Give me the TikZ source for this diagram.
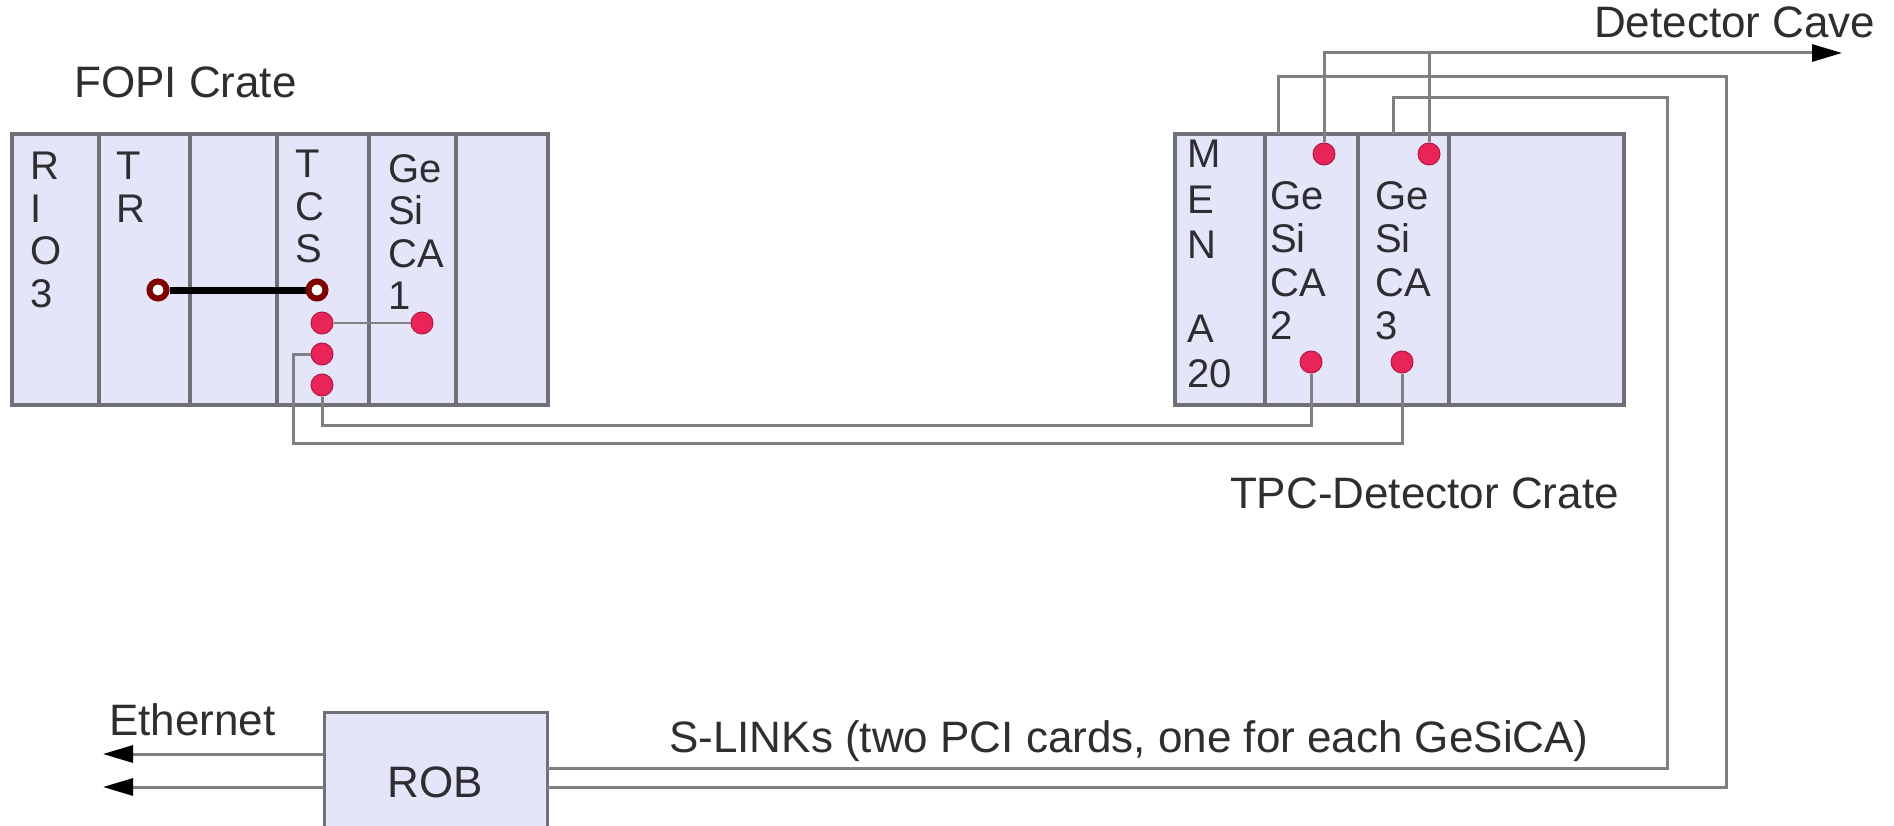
\documentclass[tikz,border=0pt]{standalone}
\usepackage{fontspec}
\setmainfont{Liberation Sans}
\usetikzlibrary{positioning, arrows.meta, calc}

\definecolor{cratefill}{RGB}{228,229,249}
\definecolor{framegray}{RGB}{112,112,120}
\definecolor{wiregray}{RGB}{128,128,128}
\definecolor{dotred}{RGB}{232,36,88}
\definecolor{ringred}{RGB}{128,0,0}
\definecolor{txtgray}{RGB}{45,45,50}

\begin{document}
\begin{tikzpicture}[
  x=1pt, y=-1pt,
  slot/.style={draw=framegray, fill=cratefill, line width=3.5pt, inner sep=0pt, outer sep=0pt,
               minimum height=271, anchor=north west},
  blk/.style={draw=framegray, fill=cratefill, line width=3pt, inner sep=0pt, outer sep=0pt,
              anchor=north west, font=\fontsize{44}{50}\selectfont, text=txtgray},
  stxt/.style={font=\fontsize{40}{42.5}\selectfont, text=txtgray, align=left, inner sep=0pt,
               anchor=north west},
  lab/.style={font=\fontsize{44}{50}\selectfont, text=txtgray, inner sep=0pt, anchor=base west},
  wire/.style={draw=wiregray, line width=3pt},
  thinwire/.style={draw=wiregray, line width=2pt},
  tip/.style={-{Triangle[length=30pt, width=17pt, color=black]}},
  dot/.style={circle, fill=dotred, draw=dotred!75!black, line width=1pt, minimum size=22, inner sep=0pt},
  ring/.style={circle, fill=white, draw=ringred, line width=6pt, minimum size=17, inner sep=0pt},
  bar/.style={draw=black, line width=7pt}
]
\useasboundingbox (0,0) rectangle (1894,826);
\clip (0,0) rectangle (1894,826);

% ================= FOPI CRATE =================
\node[slot, minimum width=87] (rio) at (12,134) {};
\node[slot, minimum width=91, right=0pt of rio] (tr) {};
\node[slot, minimum width=87, right=0pt of tr] (emp) {};
\node[slot, minimum width=92, right=0pt of emp] (tcs) {};
\node[slot, minimum width=87, right=0pt of tcs] (gsc1) {};
\node[slot, minimum width=92, right=0pt of gsc1] (spare) {};
\node[stxt] (riotxt) at ($(rio.north west)+(18,18)$) {R\\I\\O\\3};
\node[stxt] (trtxt) at ($(tr.north west)+(17,18)$) {T\\R};
\node[stxt] (tcstxt) at ($(tcs.north west)+(18,16)$) {T\\C\\S};
\node[stxt] (g1txt) at ($(gsc1.north west)+(19,20)$) {Ge\\Si\\CA\\1};
\node[lab] (fopilab) at (74,98) {FOPI Crate};

% ================= TPC-DETECTOR CRATE =================
\node[slot, minimum width=90] (men) at (1175,134) {};
\node[slot, minimum width=93, right=0pt of men] (gsc2) {};
\node[slot, minimum width=91, right=0pt of gsc2] (gsc3) {};
\node[slot, minimum width=175, right=0pt of gsc3] (vacant) {};
\node[stxt, font=\fontsize{40}{45.5}\selectfont] (mentxt) at ($(men.north west)+(12,6)$)
  {M\\E\\N\\[38pt]A\\20};
\node[stxt, font=\fontsize{40}{43.5}\selectfont] (g2txt) at ($(gsc2.north west)+(5,47)$)
  {Ge\\Si\\CA\\2};
\node[stxt, font=\fontsize{40}{43.5}\selectfont] (g3txt) at ($(gsc3.north west)+(17,47)$)
  {Ge\\Si\\CA\\3};
\node[lab, anchor=base east] (tpclab) at (1619,508) {TPC-Detector Crate};

% ================= ROB =================
\node[blk, minimum width=223, minimum height=140] (rob) at (324,712) {ROB};
\node[lab] (ethlab) at (109,735) {Ethernet};
\node[lab] (slinklab) at (669,752) {S-LINKs (two PCI cards, one for each GeSiCA)};
\node[lab] (cavelab) at (1594,38) {Detector Cave};

% ================= CONNECTORS =================
\node[dot] (tcsa) at (322,323) {};
\node[dot] (tcsb) at (322,354) {};
\node[dot] (tcsc) at (322,385) {};
\node[dot] (g1dot) at (422,323) {};
\node[dot] (g2hi) at (1324,154) {};
\node[dot] (g3hi) at (1429,154) {};
\node[dot] (g2lo) at (1311,362) {};
\node[dot] (g3lo) at (1402,362) {};
\node[ring] (trring) at (158,290) {};
\node[ring] (tcsring) at (317,290) {};
\draw[bar] (trring) -- (tcsring);

\draw[thinwire] (tcsa) -- (g1dot);
\coordinate (optA) at (293,443);
\coordinate (optB) at (1311,425);
\draw[wire] (tcsb.west) -| (optA) -| (g3lo.south);
\draw[wire] (tcsc.south) |- (optB) -- (g2lo.south);

\coordinate (cave) at (1842,53);
\draw[wire, tip] (g2hi.north) |- (cave);
\draw[wire] (g3hi.north) -- (g3hi.north |- cave);

\coordinate (slA) at (1726,77);
\coordinate (slB) at (1667,98);
\draw[wire] ($(gsc2.north west)+(13,0)$) |- (slA) |- ($(rob.north east)+(0,75)$);
\draw[wire] ($(gsc3.north west)+(35,0)$) |- (slB) |- ($(rob.north east)+(0,56)$);

\coordinate (ethA) at (103,754);
\coordinate (ethB) at (103,787);
\draw[wire, tip] (rob.west |- ethA) -- (ethA);
\draw[wire, tip] (rob.west |- ethB) -- (ethB);
\end{tikzpicture}
\end{document}
